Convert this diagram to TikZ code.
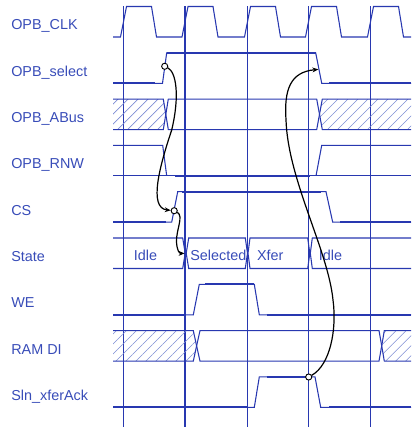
\documentclass[tikz,border=0pt]{standalone}
\usepackage{fontspec}
\setmainfont{Liberation Sans}
\usetikzlibrary{arrows.meta,patterns.meta}
\definecolor{sigblue}{RGB}{40,56,176}
\definecolor{txtblue}{RGB}{56,76,184}
\definecolor{hatchblue}{RGB}{125,140,212}

\begin{document}
\begin{tikzpicture}[x=0.75pt,y=-0.75pt,>={Stealth[length=4.5pt,width=3.6pt]},
	lbl/.style={anchor=base west,inner sep=0pt,text=txtblue,font=\fontsize{10.8}{13}\selectfont},
	sig/.style={draw=sigblue,line width=0.8pt},
	lvl/.style={draw=sigblue,line width=1.6pt},
	hatch/.style={sig,pattern={Lines[angle=45,distance=5.3pt,line width=0.45pt]},pattern color=hatchblue},
	gridline/.style={draw=sigblue,line width=0.9pt},
	cause/.style={black,line width=0.9pt},
	dot/.style={circle,draw=black,fill=white,line width=0.7pt,inner sep=0pt,minimum size=4.6pt}]
		\useasboundingbox (0,0) rectangle (411,427);
		
		% clock edges
		\draw[gridline] (123.3,6.5)--(123.3,427); \draw[gridline] (185,6.5)--(185,427); \draw[gridline] (247.5,6.5)--(247.5,427);
		\draw[gridline] (308.5,6.5)--(308.5,427); \draw[gridline] (370.3,6.5)--(370.3,427);
		
		% labels
		\node (clk) [lbl] at (11,30) {OPB\_CLK};
		\node (sel) [lbl] at (11,76.3) {OPB\_select};
		\node (abus) [lbl] at (11,122.6) {OPB\_ABus};
		\node (rnw) [lbl] at (11,168.9) {OPB\_RNW};
		\node (cs) [lbl] at (11,215.2) {CS};
		\node (state) [lbl] at (11,261) {State};
		\node (we) [lbl] at (11,307.8) {WE};
		\node (ramdi) [lbl] at (11,354.1) {RAM DI};
		\node (ack) [lbl] at (11,400.4) {Sln\_xferAck};
		
		% OPB_CLK
		\draw[sig] (113,37)--(120.5,37)--(126.5,6.5)--(151.5,6.5)--(156.5,37)--(182,37)--(188,6.5)--(213,6.5)--(218,37)--(244.5,37)--(250.5,6.5)--(275.5,6.5)--(280.5,37)
			--(305.5,37)--(311.5,6.5)--(336.5,6.5)--(341.5,37)--(367.5,37)--(373.5,6.5)--(398.5,6.5)--(403.5,37)--(411,37);
		
		% OPB_select
		\draw[sig] (113,83.3)--(162.5,83.3)--(166.7,52.8)--(315.7,52.8)--(321.7,83.3)--(411,83.3);
		\draw[lvl] (113,83.3)--(155,83.3); \draw[lvl] (167,52.8)--(315.7,52.8); \draw[lvl] (329,83.3)--(411,83.3);
		
		% OPB_ABus
		\draw[hatch] (113,99.1)--(163.3,99.1)--(165.8,114.35)--(163.3,129.6)--(113,129.6);
		\draw[sig] (168.3,99.1)--(165.8,114.35)--(168.3,129.6)--(316.7,129.6)--(319.5,114.35)--(316.7,99.1)--cycle;
		\draw[hatch] (411,99.1)--(322.3,99.1)--(319.5,114.35)--(322.3,129.6)--(411,129.6);
		
		% OPB_RNW
		\draw[sig] (113,145.4)--(162.7,145.4)--(166.7,175.9); \draw[sig] (113,175.9)--(411,175.9);
		\draw[sig] (316,175.9)--(321.7,145.4)--(411,145.4);
		\draw[lvl] (175,175.9)--(310,175.9);
		
		% CS
		\draw[sig] (113,222.2)--(171.7,222.2)--(177.7,191.7)--(326,191.7)--(332.7,222.2)--(411,222.2);
		\draw[lvl] (113,222.2)--(166,222.2); \draw[lvl] (182,191.7)--(320.7,191.7); \draw[lvl] (340,222.2)--(411,222.2);
		
		% State
		\draw[sig] (113,238)--(182.7,238)--(185.2,253.25)--(182.7,268.5)--(113,268.5);
		\draw[sig] (188.7,238)--(186.2,253.25)--(188.7,268.5)--(245.3,268.5)--(247.5,253.25)--(245.3,238)--cycle;
		\draw[sig] (250,238)--(248,253.25)--(250,268.5)--(307.7,268.5)--(309.8,253.25)--(307.7,238)--cycle;
		\draw[sig] (411,238)--(312.3,238)--(310.3,253.25)--(312.3,268.5)--(411,268.5);
		\node (idlea) [lbl] at (133.6,260) {Idle};
		\node (selected) [lbl] at (190,260) {Selected};
		\node (xfer) [lbl] at (256.8,260) {Xfer};
		\node (idleb) [lbl] at (318.6,260) {Idle};
		
		% WE
		\draw[sig] (113,314.8)--(193.3,314.8)--(199.3,284.3)--(254.3,284.3)--(259.3,314.8)--(411,314.8);
		\draw[lvl] (113,314.8)--(185,314.8); \draw[lvl] (205,284.3)--(254.3,284.3); \draw[lvl] (266.7,314.8)--(411,314.8);
		
		% RAM DI
		\draw[hatch] (113,330.6)--(193.3,330.6)--(196.6,345.85)--(193.3,361.1)--(113,361.1);
		\draw[sig] (200,330.6)--(196.6,345.85)--(200,361.1)--(379,361.1)--(381.7,345.85)--(379,330.6)--cycle;
		\draw[hatch] (411,330.6)--(384.3,330.6)--(381.7,345.85)--(384.3,361.1)--(411,361.1);
		
		% Sln_xferAck
		\draw[sig] (113,407.4)--(254.3,407.4)--(259.3,376.9)--(315,376.9)--(320.7,407.4)--(411,407.4);
		\draw[lvl] (113,407.4)--(247.7,407.4); \draw[lvl] (266.7,376.9)--(310,376.9); \draw[lvl] (329.3,407.4)--(411,407.4);
		
		% causes
		\node (selrise) [dot] at (164.7,66.3) {};
		\node (csrise) [dot] at (174.2,210.7) {};
		\node (ackhigh) [dot] at (308.7,377) {};
		\coordinate (statein) at (184.6,253.4);
		\coordinate (selfall) at (318.4,69.4);
		
		\draw[cause,->] (selrise) .. controls (176,72) and (180,95) .. (171.7,130) .. controls (160,165) and (148,208) .. (csrise);
		\draw[cause,->] (csrise) .. controls (184,216) and (176,230) .. (176.5,242) .. controls (177,250) and (179,253.4) .. (statein);
		\draw[cause,->] (ackhigh) .. controls (330,365) and (337,330) .. (333,300) .. controls (328,250) and (288,180) .. (286,120) .. controls (284,90) and (290,72) .. (selfall);
	\end{tikzpicture}
\end{document}
